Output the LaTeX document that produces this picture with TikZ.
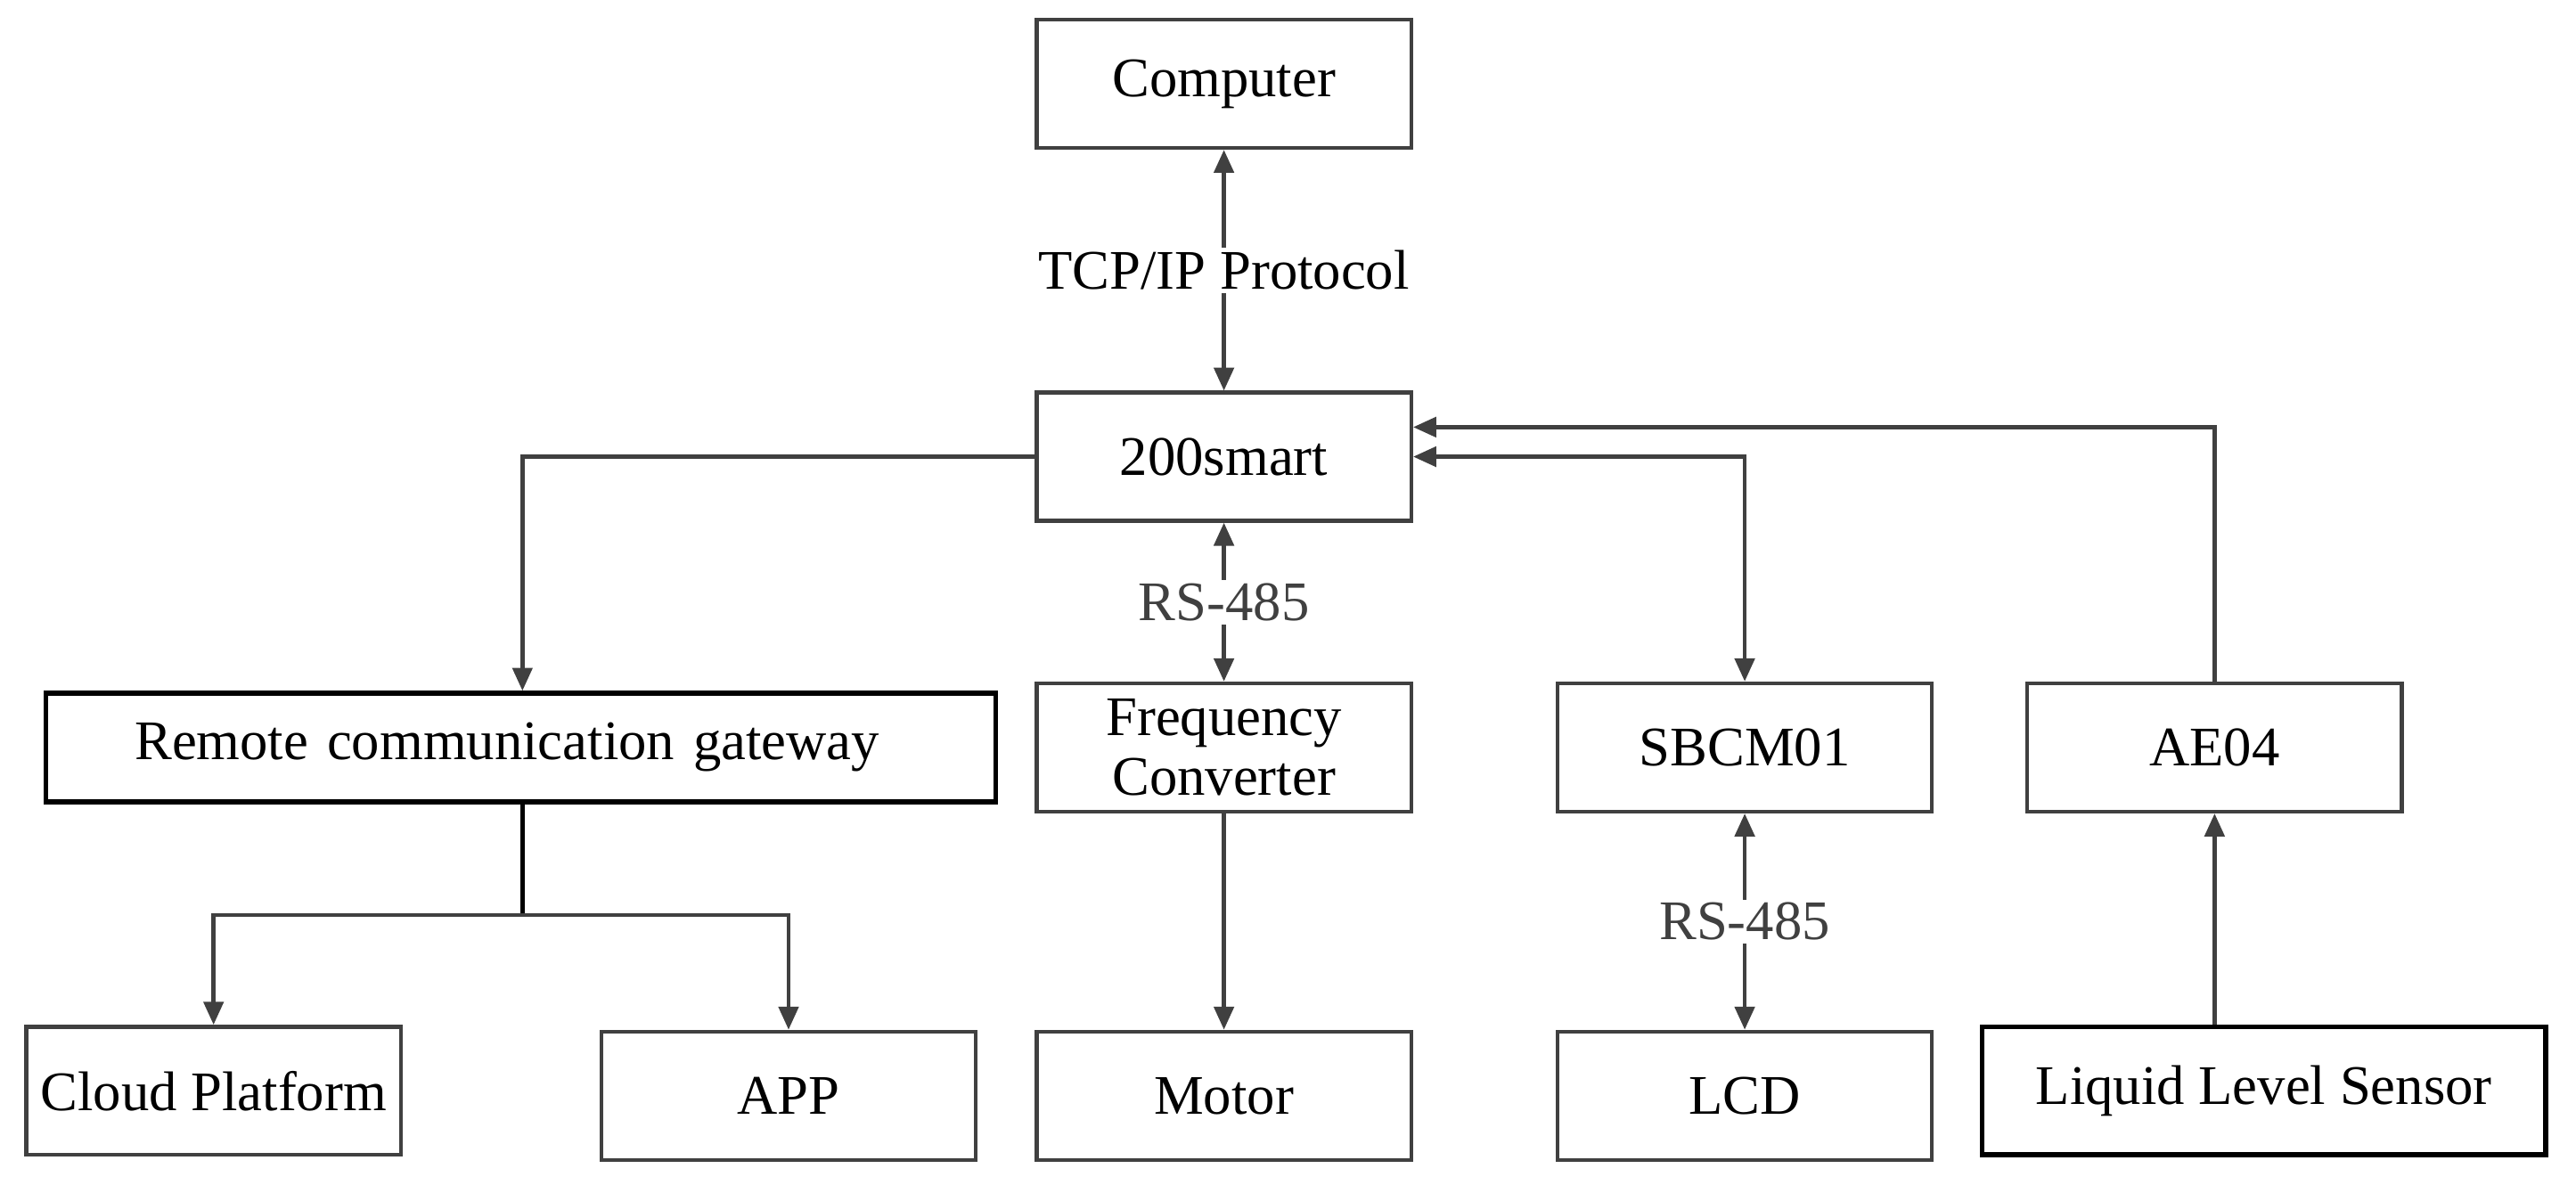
\documentclass[tikz,border=0pt]{standalone}
\usepackage{fontspec}
\setmainfont{Liberation Serif}
\usetikzlibrary{arrows.meta}
\tikzset{every picture/.style={line width=2.4pt}}
\tikzset{
  blk/.style={draw={rgb,255:red,64;green,64;blue,64},minimum width=228,minimum height=78,inner sep=0.75pt,align=center,font=\fontsize{34}{36}\selectfont},
  thk/.style={draw=black,line width=3pt},
  cn/.style={draw={rgb,255:red,64;green,64;blue,64},-{Triangle[length=14,width=12]}},
  lbl/.style={fill=white,inner sep=2pt,font=\fontsize{34}{36}\selectfont},
}
\begin{document}
\begin{tikzpicture}[x=1pt,y=1pt,yscale=-1,xscale=1]
\useasboundingbox (0,0) rectangle (1568,721);

% Nodes
\node[blk] (computer) at (745,51) {Computer};
\node[blk] (smart) at (745,278) {200smart};
\node[blk,thk,minimum width=578,minimum height=66,text width=470,align=left] (gateway) at (317,455) {Remote communication gateway};
\node[blk] (freq) at (745,455) {Frequency\\Converter};
\node[blk] (sbcm) at (1062,455) {SBCM01};
\node[blk] (ae) at (1348,455) {AE04};
\node[blk] (cloud) at (130,664) {Cloud Platform};
\node[blk] (app) at (480,667) {APP};
\node[blk] (motor) at (745,667) {Motor};
\node[blk] (lcd) at (1062,667) {LCD};
\node[blk,thk,minimum width=343] (sensor) at (1378,664) {Liquid Level Sensor};

% Junctions
\coordinate (split) at (318,557);

% Connectors
\draw[cn,{Triangle[length=14,width=12]}-{Triangle[length=14,width=12]}] (computer) -- node[lbl] {TCP/IP Protocol} (smart);
\draw[cn,{Triangle[length=14,width=12]}-{Triangle[length=14,width=12]}] (smart) -- node[lbl,text=darkgray] {RS-485} (freq);
\draw[cn,{Triangle[length=14,width=12]}-{Triangle[length=14,width=12]}] (sbcm) -- node[lbl,text=darkgray] {RS-485} (lcd);
\draw[cn] (smart.west) -| (gateway.north -| split);
\draw[draw=black] (gateway.south -| split) -- (split);
\draw[cn] (split) -| (cloud.north);
\draw[cn] (split) -| (app.north);
\draw[cn] (freq) -- (motor);
\draw[cn,{Triangle[length=14,width=12]}-{Triangle[length=14,width=12]}] (smart.east) -| (sbcm.north);
\draw[cn] (ae.north) |- ([yshift=-18]smart.east);
\draw[cn] (sensor.north -| ae) -- (ae.south);

\end{tikzpicture}
\end{document}
